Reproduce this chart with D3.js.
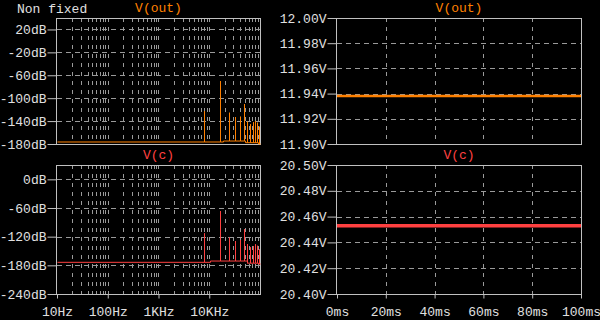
<!DOCTYPE html>
<html><head><meta charset="utf-8">
<script src="https://cdn.jsdelivr.net/npm/d3@7"></script>
<style>
html,body{margin:0;padding:0;background:#000;}
svg{display:block;}
text{font-family:"Liberation Mono","DejaVu Sans Mono",monospace;font-size:13px;}
</style></head>
<body>
<svg id="c" width="600" height="320"></svg>
<script>
// ---- data ----
const spikeFreqs = [8000,16000,24000,32000,40000,48000,56000,64000,72000,80000,88000,96000];
const outSpikeDb = [-122.9,-70,-125.4,-132.9,-132.3,-110.2,-141,-145.6,-142,-139.8,-142.8,-149.8];
const cSpikeDb   = [-113,-66.4,-122.2,-129.1,-127,-104,-135.4,-142.3,-139.6,-136,-139,-146.5];
const outFloorFreq = [10,19000,51000,90000,100000];
const outFloorDb   = [-176.5,-174.8,-177.7,-180,-180];
const cFloorFreq = [10,10500,55000,90000,100000];
const cFloorDb   = [-173.7,-171,-175.5,-177.3,-177.3];
const timeMs = [0,100];
const vOut = [11.938,11.938];
const vC = [20.453,20.453];
const freqTicks = [10,100,1000,10000];
const freqLabels = ["10Hz","100Hz","1KHz","10KHz"];
const outDbTicks = [20,-20,-60,-100,-140,-180];
const cDbTicks = [0,-60,-120,-180,-240];
const vOutTicks = [11.90,11.92,11.94,11.96,11.98,12.00];
const vCTicks = [20.40,20.42,20.44,20.46,20.48,20.50];
const timeTicks = [0,20,40,60,80,100];
const title = "Non fixed";

const ORANGE = "#ff8000", RED = "#ff4040", TEXT = "#e0e0e0", FRAME = "#c0c0c0", GRID = "#9a9a9a";
const svg = d3.select("#c");

const L = {x0:57, x1:260}, R = {x0:337, x1:581};
const T = {y0:18, y1:144}, B = {y0:165, y1:294};

const xF = d3.scaleLog().domain([10,100000]).range([L.x0, L.x1]);
const xT = d3.scaleLinear().domain([0,100]).range([R.x0, R.x1]);
const yOutDb = d3.scaleLinear().domain([-180,40]).range([T.y1, T.y0]);
const yCDb = d3.scaleLinear().domain([-240,30]).range([B.y1, B.y0]);
const yVOut = d3.scaleLinear().domain([11.90,12.00]).range([T.y1, T.y0]);
const yVC = d3.scaleLinear().domain([20.40,20.50]).range([B.y1, B.y0]);

svg.append("text").attr("x",17).attr("y",13).attr("fill",TEXT).text(title);

function minorFreqs(){
  const a=[];
  for(let d=10; d<100000; d*=10) for(let m=1;m<10;m++) a.push(d*m);
  return a.filter(f=>f>10);
}

function panel(x, y, yTicks, yFmt, xGridVals, xTicks, xLabels, seriesTitle, color){
  const g = svg.append("g");
  const [xa,xb] = x.range(), [ya,yb] = y.range();
  // grid
  g.selectAll(".gv").data(xGridVals).join("line")
    .attr("x1",d=>Math.round(x(d))+0.5).attr("x2",d=>Math.round(x(d))+0.5)
    .attr("y1",yb).attr("y2",ya).attr("stroke",GRID).attr("stroke-dasharray","4,5");
  g.selectAll(".gh").data(yTicks.filter(v=>y(v)>yb+1 && y(v)<ya-1)).join("line")
    .attr("x1",xa).attr("x2",xb)
    .attr("y1",d=>Math.round(y(d))+0.5).attr("y2",d=>Math.round(y(d))+0.5)
    .attr("stroke",GRID).attr("stroke-dasharray","5,4");
  // y axis
  const ay = g.append("g").attr("transform",`translate(${xa-0.5},0)`)
    .call(d3.axisLeft(y).tickValues(yTicks).tickSize(9).tickPadding(1).tickFormat(yFmt));
  ay.select(".domain").remove();
  ay.selectAll("line").attr("stroke",FRAME);
  ay.selectAll("text").attr("fill",TEXT).style("font-family",'"Liberation Mono",monospace').style("font-size","13px");
  if(xTicks){
    const ax = g.append("g").attr("transform",`translate(0,${ya+0.5})`)
      .call(d3.axisBottom(x).tickValues(xTicks).tickSize(4).tickPadding(8).tickFormat((d,i)=>xLabels[i]));
    ax.select(".domain").remove();
    ax.selectAll("line").attr("stroke",FRAME);
    ax.selectAll("text").attr("fill",TEXT).style("font-family",'"Liberation Mono",monospace').style("font-size","13px");
  }
  // frame
  g.append("rect").attr("x",xa-0.5).attr("y",yb+0.5).attr("width",xb-xa+1).attr("height",ya-yb)
    .attr("fill","none").attr("stroke",FRAME);
  // title
  svg.append("text").attr("x",(xa+xb)/2).attr("y",yb-6).attr("text-anchor","middle")
    .attr("fill",color).text(seriesTitle);
  return g;
}

function spectrumPoints(fr, db, peaks){
  const pts = [];
  const events = [];
  fr.forEach((f,i)=>events.push({f, type:"step", i}));
  spikeFreqs.forEach((f,i)=>events.push({f, type:"spike", i}));
  events.sort((a,b)=>a.f-b.f);
  let level = db[0];
  pts.push([fr[0], level]);
  events.forEach(e=>{
    if(e.type==="step"){
      pts.push([e.f, level]); level = db[e.i]; pts.push([e.f, level]);
    } else {
      pts.push([e.f, level]); pts.push([e.f, peaks[e.i]]); pts.push([e.f, level]);
    }
  });
  return pts;
}

// top-left
const gTL = panel(xF, yOutDb, outDbTicks, d=>d+"dB", minorFreqs(), null, null, "V(out)", ORANGE);
gTL.append("path").datum(spectrumPoints(outFloorFreq,outFloorDb,outSpikeDb))
  .attr("d", d3.line().x(d=>Math.round(xF(d[0]))+0.5).y(d=>yOutDb(d[1])))
  .attr("fill","none").attr("stroke",ORANGE).attr("stroke-width",1);
// bottom-left
const gBL = panel(xF, yCDb, cDbTicks, d=>d+"dB", minorFreqs(), freqTicks, freqLabels, "V(c)", RED);
gBL.append("path").datum(spectrumPoints(cFloorFreq,cFloorDb,cSpikeDb))
  .attr("d", d3.line().x(d=>Math.round(xF(d[0]))+0.5).y(d=>yCDb(d[1])))
  .attr("fill","none").attr("stroke",RED).attr("stroke-width",1);
// top-right
const gTR = panel(xT, yVOut, vOutTicks, d=>d3.format(".2f")(d)+"V", [20,40,60,80], null, null, "V(out)", ORANGE);
gTR.append("path").datum(timeMs.map((t,i)=>[t,vOut[i]]))
  .attr("d", d3.line().x(d=>xT(d[0])).y(d=>yVOut(d[1])))
  .attr("fill","none").attr("stroke",ORANGE).attr("stroke-width",2.5);
// bottom-right
const gBR = panel(xT, yVC, vCTicks, d=>d3.format(".2f")(d)+"V", [20,40,60,80], timeTicks, timeTicks.map(t=>t+"ms"), "V(c)", RED);
gBR.append("path").datum(timeMs.map((t,i)=>[t,vC[i]]))
  .attr("d", d3.line().x(d=>xT(d[0])).y(d=>yVC(d[1])))
  .attr("fill","none").attr("stroke",RED).attr("stroke-width",3.5);
</script>
</body></html>
